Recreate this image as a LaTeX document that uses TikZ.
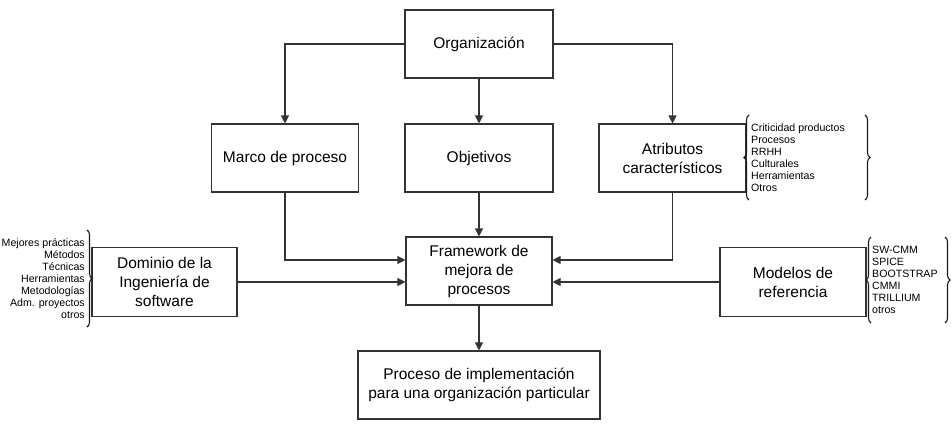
\documentclass[tikz,border=0pt]{standalone}
\usepackage{fontspec}
\setmainfont{Liberation Sans}
\usetikzlibrary{arrows.meta,decorations.pathreplacing}
\begin{document}
\begin{tikzpicture}[x=1pt,y=-1pt,
  box/.style={draw=black!80,line width=1.1pt,fill=white,align=center,inner sep=2pt,
    font=\fontsize{15.5}{19}\selectfont},
  arr/.style={draw=black!80,line width=1.1pt,-{Triangle[length=8pt,width=8pt]}},
  lst/.style={inner sep=0pt,font=\fontsize{10.6}{12}\selectfont},
  brc/.style={draw=black!90,line width=1.1pt,decorate,decoration={brace,amplitude=5pt,aspect=0.5}}]
\useasboundingbox (0,0) rectangle (952,426);
\node[box,minimum width=148pt,minimum height=68pt] (org) at (479,44) {Organización};
\node[box,minimum width=147pt,minimum height=68pt] (marco) at (285,158) {Marco de proceso};
\node[box,minimum width=148pt,minimum height=68pt] (obj) at (479,158) {Objetivos};
\node[box,minimum width=147pt,minimum height=68pt] (atr) at (672.5,158) {Atributos\\característicos};
\node[box,minimum width=146pt,minimum height=68pt] (fw) at (479,271) {Framework de\\mejora de\\procesos};
\node[box,minimum width=145pt,minimum height=69pt] (dom) at (164.5,282) {Dominio de la\\Ingeniería de\\software};
\node[box,minimum width=146pt,minimum height=69pt] (mod) at (793,282) {Modelos de\\referencia};
\node[box,minimum width=242pt,minimum height=68pt] (proc) at (479,385) {Proceso de implementación\\para una organización particular};
% connectors
\draw[arr] (org.west) -| (marco.north);
\draw[arr] (org.east) -| (atr.north);
\draw[arr] (org.south) -- (obj.north);
\draw[arr] (obj.south) -- (fw.north);
\draw[arr] (marco.south) |- ([yshift=11pt]fw.west);
\draw[arr] (atr.south) |- ([yshift=11pt]fw.east);
\draw[arr] (dom.east) -- (dom.east -| fw.west);
\draw[arr] (mod.west) -- (mod.west -| fw.east);
\draw[arr] (fw.south) -- (proc.north);
% lists
\node[lst,align=right,anchor=east] (ldom) at (85,279) {Mejores prácticas\\Métodos\\Técnicas\\Herramientas\\Metodologías\\Adm. proyectos\\otros};
\node[lst,align=left,anchor=west] (latr) at (751,157.5) {Criticidad productos\\Procesos\\RRHH\\Culturales\\Herramientas\\Otros};
\node[lst,align=left,anchor=west] (lmod) at (872,280) {SW-CMM\\SPICE\\BOOTSTRAP\\CMMI\\TRILLIUM\\otros};
% braces
\coordinate (b1a) at (87,230); \coordinate (b1b) at (87,327);
\draw[brc] (b1a) -- (b1b);
\coordinate (b2a) at (749,200); \coordinate (b2b) at (749,115);
\draw[brc] (b2a) -- (b2b);
\coordinate (b3a) at (865,115); \coordinate (b3b) at (865,200);
\draw[brc] (b3a) -- (b3b);
\coordinate (b4a) at (871,323); \coordinate (b4b) at (871,237);
\draw[brc] (b4a) -- (b4b);
\coordinate (b5a) at (945,237); \coordinate (b5b) at (945,323);
\draw[brc] (b5a) -- (b5b);
\end{tikzpicture}
\end{document}
